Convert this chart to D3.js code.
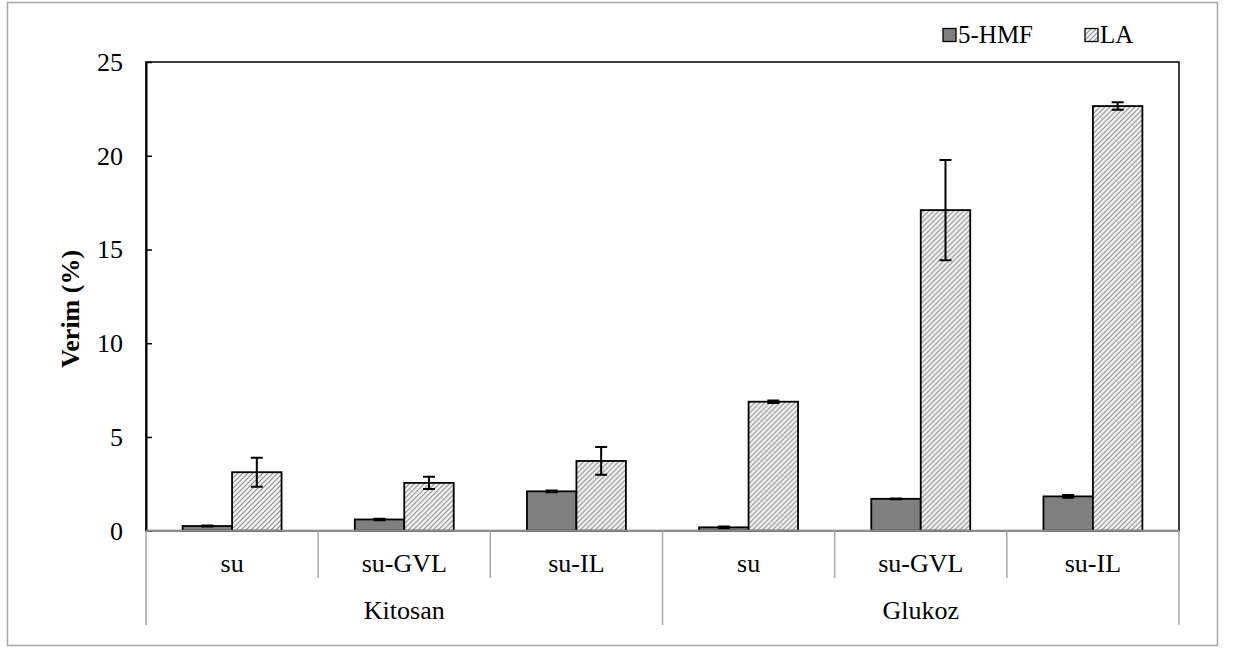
<!DOCTYPE html>
<html>
<head>
<meta charset="utf-8">
<script src="https://cdn.jsdelivr.net/npm/d3@7"></script>
<style>
  body { margin: 0; background: #fff; }
  text { font-family: "Liberation Serif", "Times New Roman", serif; fill: #000; }
</style>
</head>
<body>
<div id="chart"></div>
<script>
// data
const groups = ["Kitosan", "Glukoz"];
const solvents = ["su", "su-GVL", "su-IL"];
const seriesNames = ["5-HMF", "LA"];
const hmf = [0.25, 0.6, 2.1, 0.18, 1.7, 1.83];
const hmfErr = [0.03, 0.04, 0.05, 0.05, 0.02, 0.07];
const la = [3.12, 2.55, 3.72, 6.88, 17.1, 22.65];
const laErr = [0.77, 0.33, 0.74, 0.07, 2.67, 0.2];
const yTicks = [0, 5, 10, 15, 20, 25];

const W = 1233, H = 648;
const plotL = 146, plotR = 1179, plotT = 62, plotB = 530.7;
const fs = "26px";

const svg = d3.select("#chart").append("svg")
  .attr("width", W).attr("height", H);

// hatch pattern for LA
const defs = svg.append("defs");
const pat = defs.append("pattern")
  .attr("id", "hatch")
  .attr("patternUnits", "userSpaceOnUse")
  .attr("width", 5).attr("height", 5);
pat.append("rect").attr("width", 5).attr("height", 5).attr("fill", "#f2f2f2");
pat.append("path")
  .attr("d", "M0,5 L5,0 M-1,1 L1,-1 M4,6 L6,4")
  .attr("stroke", "#8f8f8f").attr("stroke-width", 1.1);

// outer frame
svg.append("rect")
  .attr("x", 7.5).attr("y", 2.5).attr("width", 1210).attr("height", 643)
  .attr("fill", "#fff").attr("stroke", "#a6a6a6").attr("stroke-width", 1.5);

// category keys
const cats = [];
groups.forEach(g => solvents.forEach(s => cats.push(g + "|" + s)));

const x = d3.scaleBand().domain(cats).range([plotL, plotR]).padding(0);
const xs = d3.scaleBand().domain(seriesNames).range([0, x.bandwidth()])
  .paddingInner(0).paddingOuter(0.74);
const y = d3.scaleLinear().domain([0, 25]).range([plotB, plotT]);

// plot area border
svg.append("rect")
  .attr("x", plotL).attr("y", plotT)
  .attr("width", plotR - plotL).attr("height", plotB - plotT)
  .attr("fill", "none").attr("stroke", "#000").attr("stroke-width", 1.5);

// y axis
const yAxis = svg.append("g")
  .attr("transform", "translate(" + plotL + ",0)")
  .call(d3.axisLeft(y).tickValues(yTicks).tickSize(-6).tickSizeOuter(0).tickPadding(23));
yAxis.select(".domain").attr("stroke", "#000").attr("stroke-width", 2);
yAxis.selectAll(".tick line").attr("stroke", "#000").attr("stroke-width", 1.5);
yAxis.selectAll(".tick text")
  .style("font-family", "'Liberation Serif', serif")
  .style("font-size", fs).attr("fill", "#000");

// y label
svg.append("text")
  .attr("transform", "translate(79,309) rotate(-90)")
  .attr("text-anchor", "middle")
  .style("font-size", "26px").style("font-weight", "bold")
  .text("Verim (%)");

// bars
const rows = cats.map((c, i) => ({
  key: c,
  vals: [
    { s: "5-HMF", v: hmf[i], e: hmfErr[i] },
    { s: "LA", v: la[i], e: laErr[i] }
  ]
}));

const g = svg.append("g").selectAll("g").data(rows).enter().append("g")
  .attr("transform", d => "translate(" + x(d.key) + ",0)");

g.selectAll("rect").data(d => d.vals).enter().append("rect")
  .attr("x", d => xs(d.s))
  .attr("y", d => y(d.v))
  .attr("width", xs.bandwidth())
  .attr("height", d => y(0) - y(d.v))
  .attr("fill", d => d.s === "LA" ? "url(#hatch)" : "#7f7f7f")
  .attr("stroke", "#000").attr("stroke-width", 1.8);

// error bars
const capW = 12;
g.selectAll("path.err").data(d => d.vals).enter().append("path")
  .attr("class", "err")
  .attr("d", d => {
    const cx = xs(d.s) + xs.bandwidth() / 2;
    const y1 = y(d.v + d.e), y2 = y(d.v - d.e);
    return "M" + cx + "," + y1 + "V" + y2 +
      "M" + (cx - capW / 2) + "," + y1 + "h" + capW +
      "M" + (cx - capW / 2) + "," + y2 + "h" + capW;
  })
  .attr("fill", "none").attr("stroke", "#000").attr("stroke-width", 2);

// category axis (two levels)
const axisG = svg.append("g");
axisG.append("line")
  .attr("x1", plotL).attr("x2", plotR).attr("y1", plotB).attr("y2", plotB)
  .attr("stroke", "#8c8c8c").attr("stroke-width", 2);

const groupW = x.bandwidth() * solvents.length;
cats.forEach((c, i) => {
  const xx = x(c);
  const outer = i % solvents.length === 0;
  axisG.append("line")
    .attr("x1", xx).attr("x2", xx)
    .attr("y1", plotB).attr("y2", outer ? 625 : 578)
    .attr("stroke", "#a6a6a6").attr("stroke-width", 1.5);
  axisG.append("text")
    .attr("x", xx + x.bandwidth() / 2).attr("y", 571.5)
    .attr("text-anchor", "middle").style("font-size", fs)
    .text(c.split("|")[1]);
});
axisG.append("line")
  .attr("x1", plotR).attr("x2", plotR).attr("y1", plotB).attr("y2", 625)
  .attr("stroke", "#a6a6a6").attr("stroke-width", 1.5);

groups.forEach(gr => {
  const x0 = x(gr + "|" + solvents[0]);
  axisG.append("text")
    .attr("x", x0 + groupW / 2).attr("y", 619)
    .attr("text-anchor", "middle").style("font-size", fs)
    .text(gr);
});

// legend
const legend = svg.append("g");
const legX = [943, 1085];
seriesNames.forEach((s, i) => {
  legend.append("rect")
    .attr("x", legX[i]).attr("y", 28.5).attr("width", 13).attr("height", 13)
    .attr("fill", s === "LA" ? "url(#hatch)" : "#7f7f7f")
    .attr("stroke", "#000").attr("stroke-width", 1.3);
  legend.append("text")
    .attr("x", legX[i] + 15).attr("y", 43)
    .style("font-size", "25px")
    .text(s);
});
</script>
</body>
</html>
